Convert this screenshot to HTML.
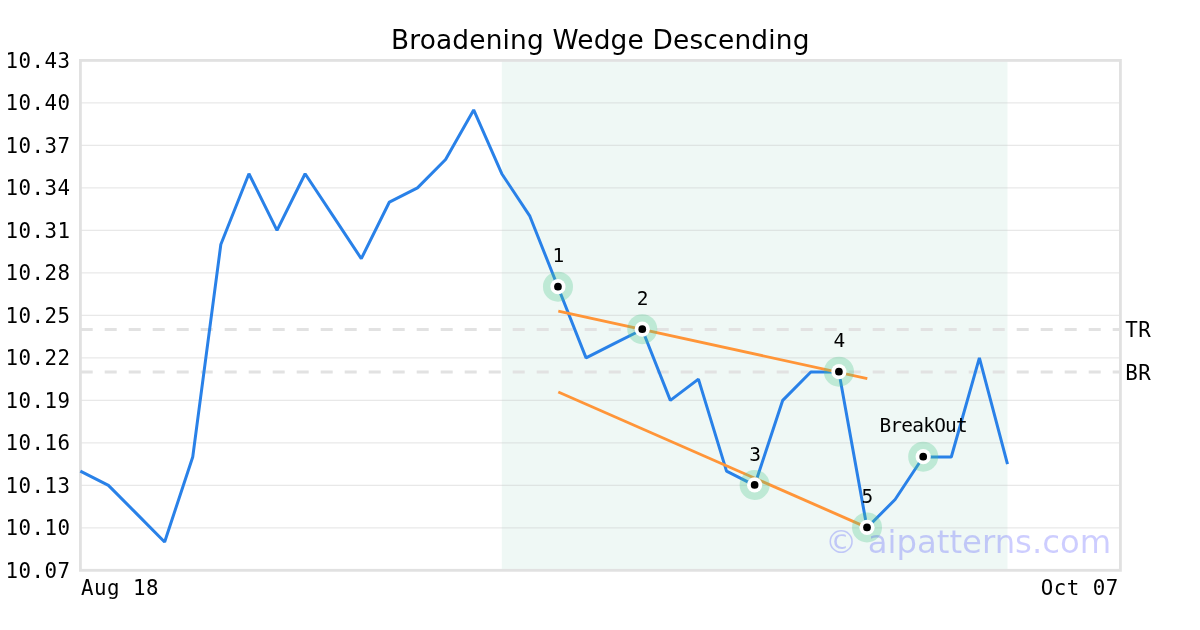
<!DOCTYPE html>
<html><head><meta charset="utf-8"><title>Broadening Wedge Descending</title>
<style>
html,body{margin:0;padding:0;background:#fff;}
body{width:1200px;height:630px;overflow:hidden;}
svg{display:block;opacity:0.999;will-change:transform;}
.mono{font-family:"DejaVu Sans Mono","Liberation Mono",monospace;}
.sans{font-family:"DejaVu Sans","Liberation Sans",sans-serif;}
</style></head><body>
<svg width="1200" height="630" viewBox="0 0 1200 630">
<rect width="1200" height="630" fill="#ffffff"/>
<rect x="501.77" y="60.4" width="505.71" height="509.90" fill="#eff8f5"/>
<g stroke="#c3c3c3" stroke-opacity="0.38" stroke-width="1.2"><line x1="80.4" x2="1120.4" y1="527.81" y2="527.81"/><line x1="80.4" x2="1120.4" y1="485.32" y2="485.32"/><line x1="80.4" x2="1120.4" y1="442.82" y2="442.82"/><line x1="80.4" x2="1120.4" y1="400.33" y2="400.33"/><line x1="80.4" x2="1120.4" y1="357.84" y2="357.84"/><line x1="80.4" x2="1120.4" y1="315.35" y2="315.35"/><line x1="80.4" x2="1120.4" y1="272.86" y2="272.86"/><line x1="80.4" x2="1120.4" y1="230.37" y2="230.37"/><line x1="80.4" x2="1120.4" y1="187.87" y2="187.87"/><line x1="80.4" x2="1120.4" y1="145.38" y2="145.38"/><line x1="80.4" x2="1120.4" y1="102.89" y2="102.89"/></g>
<g stroke="#e2e2e2" stroke-width="3" stroke-dasharray="12 12" stroke-dashoffset="-0.3" fill="none">
<line x1="80.4" x2="1120.4" y1="329.51" y2="329.51"/>
<line x1="80.4" x2="1120.4" y1="372.01" y2="372.01"/>
</g>
<rect x="80.4" y="60.4" width="1040.0" height="509.90" fill="none" stroke="#e1e1e1" stroke-width="2.85"/>
<polyline points="80.35,471.15 108.44,485.32 136.54,513.64 164.63,541.97 192.73,456.99 220.82,244.53 248.92,173.71 277.01,230.37 305.11,173.71 333.20,216.20 361.30,258.69 389.39,202.04 417.49,187.87 445.59,159.55 473.68,109.97 501.77,173.71 529.87,216.20 557.97,287.02 586.06,357.84 614.15,343.68 642.25,329.51 670.35,400.33 698.44,379.09 726.53,471.15 754.63,485.32 782.73,400.33 810.82,372.01 838.91,372.01 867.01,527.81 895.11,499.48 923.20,456.99 951.29,456.99 979.39,357.84 1007.49,464.07" fill="none" stroke="#2981e8" stroke-width="3" stroke-linejoin="bevel" stroke-linecap="butt"/>
<g stroke="#ff9538" stroke-width="2.9" fill="none">
<line x1="558.3" y1="311.2" x2="867.3" y2="378.6"/>
<line x1="558.3" y1="392.0" x2="867.3" y2="527.6"/>
</g>
<circle cx="557.97" cy="286.67" r="15" fill="#4cc68c" fill-opacity="0.3"/><circle cx="557.97" cy="286.67" r="7.6" fill="#fff"/><circle cx="557.97" cy="286.67" r="3.85" fill="#000"/><circle cx="642.25" cy="329.16" r="15" fill="#4cc68c" fill-opacity="0.3"/><circle cx="642.25" cy="329.16" r="7.6" fill="#fff"/><circle cx="642.25" cy="329.16" r="3.85" fill="#000"/><circle cx="754.63" cy="484.97" r="15" fill="#4cc68c" fill-opacity="0.3"/><circle cx="754.63" cy="484.97" r="7.6" fill="#fff"/><circle cx="754.63" cy="484.97" r="3.85" fill="#000"/><circle cx="838.91" cy="371.66" r="15" fill="#4cc68c" fill-opacity="0.3"/><circle cx="838.91" cy="371.66" r="7.6" fill="#fff"/><circle cx="838.91" cy="371.66" r="3.85" fill="#000"/><circle cx="867.01" cy="527.46" r="15" fill="#4cc68c" fill-opacity="0.3"/><circle cx="867.01" cy="527.46" r="7.6" fill="#fff"/><circle cx="867.01" cy="527.46" r="3.85" fill="#000"/><circle cx="923.20" cy="456.64" r="15" fill="#4cc68c" fill-opacity="0.3"/><circle cx="923.20" cy="456.64" r="7.6" fill="#fff"/><circle cx="923.20" cy="456.64" r="3.85" fill="#000"/>
<g class="mono" font-size="19.44" fill="#000" letter-spacing="-0.75"><text x="557.97" y="262.42" text-anchor="middle">1</text><text x="642.25" y="304.91" text-anchor="middle">2</text><text x="754.63" y="460.72" text-anchor="middle">3</text><text x="838.91" y="347.41" text-anchor="middle">4</text><text x="867.01" y="503.21" text-anchor="middle">5</text><text x="923.20" y="432.39" text-anchor="middle">BreakOut</text></g>
<text class="sans" x="1111.2" y="552.7" text-anchor="end" font-size="32.3" fill="#0000ff" fill-opacity="0.195">© aipatterns.com</text>
<g class="mono" font-size="20.8" fill="#000" letter-spacing="0.48"><text x="70.5" y="577.90" text-anchor="end">10.07</text><text x="70.5" y="535.41" text-anchor="end">10.10</text><text x="70.5" y="492.92" text-anchor="end">10.13</text><text x="70.5" y="450.42" text-anchor="end">10.16</text><text x="70.5" y="407.93" text-anchor="end">10.19</text><text x="70.5" y="365.44" text-anchor="end">10.22</text><text x="70.5" y="322.95" text-anchor="end">10.25</text><text x="70.5" y="280.46" text-anchor="end">10.28</text><text x="70.5" y="237.97" text-anchor="end">10.31</text><text x="70.5" y="195.47" text-anchor="end">10.34</text><text x="70.5" y="152.98" text-anchor="end">10.37</text><text x="70.5" y="110.49" text-anchor="end">10.40</text><text x="70.5" y="68.00" text-anchor="end">10.43</text>
<text x="81.1" y="595">Aug 18</text>
<text x="1118.8" y="595" text-anchor="end">Oct 07</text>
<text x="1125.3" y="336.6">TR</text>
<text x="1125.3" y="379.6">BR</text>
</g>
<text class="sans" x="600.3" y="49.1" text-anchor="middle" font-size="26.4" letter-spacing="0.18" fill="#000">Broadening Wedge Descending</text>
</svg>
</body></html>
